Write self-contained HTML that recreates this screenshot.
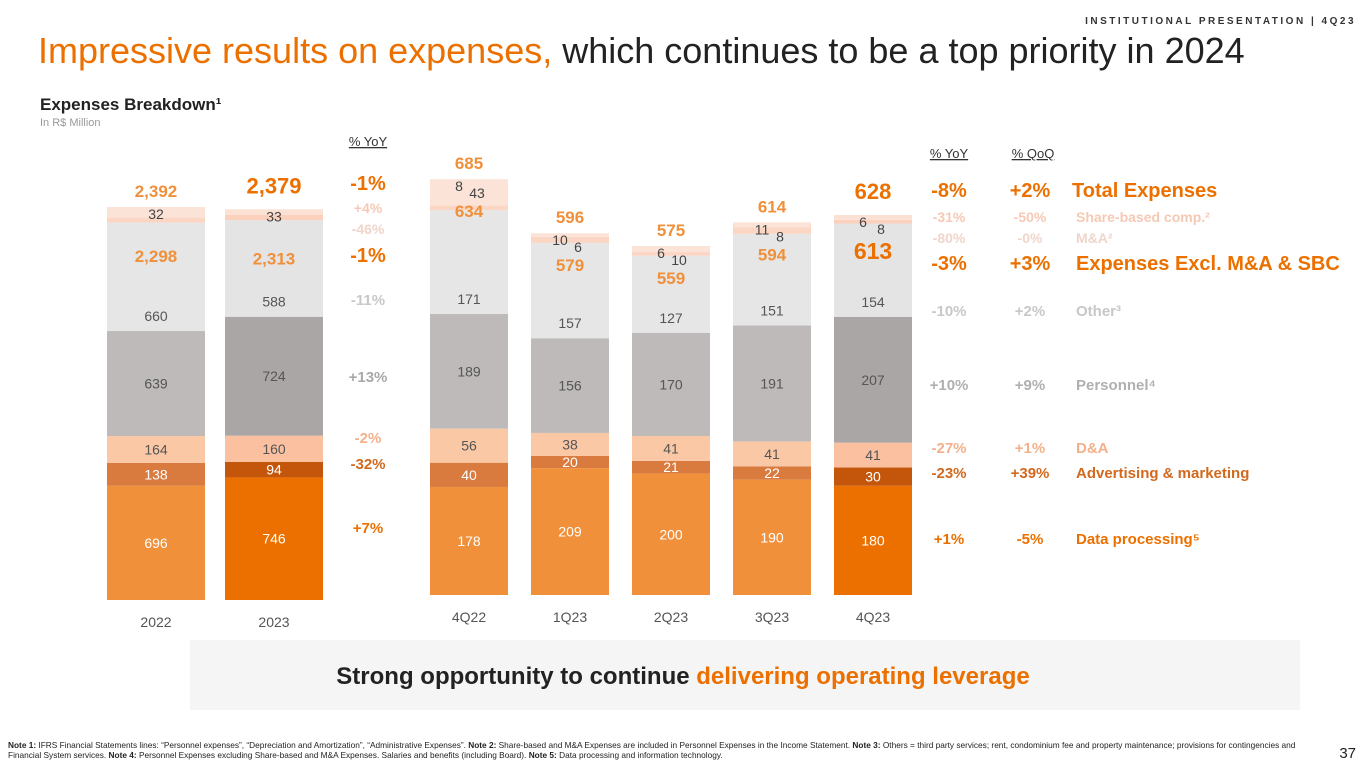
<!DOCTYPE html>
<html><head><meta charset="utf-8"><style>
body{margin:0;width:1365px;height:768px;overflow:hidden;background:#fff;font-family:"Liberation Sans",sans-serif}
svg{position:absolute;left:0;top:0}
.note{position:absolute;left:8px;top:740px;width:1300px;font-size:8.3px;line-height:10px;color:#222}
</style></head><body>
<svg id="s" width="1365" height="768">
<text x="1356" y="24" text-anchor="end" font-size="10" letter-spacing="2.5" fill="#333" font-weight="bold">INSTITUTIONAL PRESENTATION | 4Q23</text>
<text x="38" y="63" font-size="36" fill="#ec7000">Impressive results on expenses,<tspan fill="#222"> which continues to be a top priority in 2024</tspan></text>
<text x="40" y="110" font-size="17" font-weight="bold" fill="#222">Expenses Breakdown¹</text>
<text x="40" y="126" font-size="11" fill="#999">In R$ Million</text>
<rect x="190" y="640" width="1110" height="70" fill="#f5f5f5"/>
<text x="683" y="684" text-anchor="middle" font-size="24" font-weight="bold" fill="#222">Strong opportunity to continue <tspan fill="#ec7000">delivering operating leverage</tspan></text>
<text x="1356" y="758" text-anchor="end" font-size="15" fill="#222">37</text>
</svg>
<div class="note"><b>Note 1:</b> IFRS Financial Statements lines: “Personnel expenses”, “Depreciation and Amortization”, “Administrative Expenses”. <b>Note 2:</b> Share-based and M&amp;A Expenses are included in Personnel Expenses in the Income Statement. <b>Note 3:</b> Others = third party services; rent, condominium fee and property maintenance; provisions for contingencies and Financial System services. <b>Note 4:</b> Personnel Expenses excluding Share-based and M&amp;A Expenses. Salaries and benefits (including Board). <b>Note 5:</b> Data processing and information technology.</div>
<script>
const annualCats=["2022","2023"];
const annualData=[696,746];const annualAdv=[138,94];const annualDA=[164,160];const annualPers=[639,724];const annualOther=[660,588];
const annualSBC=[32,33];const annualMA=[63,33];
const annualExcl=["2,298","2,313"];const annualTotal=["2,392","2,379"];
const qCats=["4Q22","1Q23","2Q23","3Q23","4Q23"];
const qData=[178,209,200,190,180];const qAdv=[40,20,21,22,30];const qDA=[56,38,41,41,41];const qPers=[189,156,170,191,207];const qOther=[171,157,127,151,154];
const qSBC=[8,10,6,11,6];const qMA=[43,6,10,8,8];
const qExcl=["634","579","559","594","613"];const qTotal=["685","596","575","614","628"];
const annualYoY=["-1%","+4%","-46%","-1%","-11%","+13%","-2%","-32%","+7%"];
const qYoY=["-8%","-31%","-80%","-3%","-10%","+10%","-27%","-23%","+1%"];
const qQoQ=["+2%","-50%","-0%","+3%","+2%","+9%","+1%","+39%","-5%"];
const rowLabels=["Total Expenses","Share-based comp.²","M&A²","Expenses Excl. M&A & SBC","Other³","Personnel⁴","D&A","Advertising & marketing","Data processing⁵"];
const S=document.getElementById('s');const NS="http://www.w3.org/2000/svg";
function mk(t,a,txt){const e=document.createElementNS(NS,t);for(const k in a)e.setAttribute(k,a[k]);if(txt!==undefined)e.textContent=txt;S.appendChild(e);return e;}
function chart(cats,series,excl,total,x0,step,w,base,scale,hiIdx,opts){
 const cols=[["#f0903a","#ec7000"],["#d97a3e","#c4560c"],["#fbc8a5","#fbc0a0"],["#bdbab9","#aaa6a5"],["#e6e6e6","#e4e4e4"],["#fbd6c4","#fbd0bd"],["#fbe3d8","#fbe0d4"]];
 const y=v=>base-v*scale;
 cats.forEach((c,i)=>{
  const x=x0+i*step;let acc=0;const hi=i===hiIdx;
  series.forEach((s,k)=>{
   const v=s[i];const r=mk('rect',{x:x,y:y(acc+v),width:w,height:v*scale,fill:cols[k][hi?1:0]});
   
   
   if(k<4){const t=mk('text',{x:x+w/2,y:y(acc+v/2)+5,'text-anchor':'middle','font-size':14,fill:k<2?'#fff':'#555'},String(v));
    }
   if(k===4){const t=mk('text',{x:x+w/2,y:y(acc)-10,'text-anchor':'middle','font-size':14,fill:'#555'},String(v));
    }
   acc+=v;
  });
  const top=y(acc);
  const sb=mk('text',{x:x+w/2-(opts.sm?10:0),y:top+12,'text-anchor':'middle','font-size':14,fill:'#444'},String(series[5][i]));
  
  if(opts.sm){const m=mk('text',{x:x+w/2+8,y:top+19,'text-anchor':'middle','font-size':14,fill:'#444'},String(series[6][i]));
   }
  const big=hi&&opts.sm;
  const ex=mk('text',{x:x+w/2,y:top+opts.exOff+(big?6:0),'text-anchor':'middle','font-size':big?23:17,'font-weight':'bold',fill:big?'#ec7000':'#f0903a'},excl[i]);
  
  const tt=mk('text',{x:x+w/2,y:top-10-(hi?6:0),'text-anchor':'middle','font-size':hi?22:17,'font-weight':'bold',fill:hi?'#ec7000':'#f0903a'},total[i]);
  
  const xl=mk('text',{x:x+w/2,y:base+27,'text-anchor':'middle','font-size':14,fill:'#555'},c);
  
 });
}
chart(annualCats,[annualData,annualAdv,annualDA,annualPers,annualOther,annualSBC,annualMA],annualExcl,annualTotal,107,118,98,600,0.1643,1,{sm:false,exOff:55});
chart(qCats,[qData,qAdv,qDA,qPers,qOther,qSBC,qMA],qExcl,qTotal,430,101,78,595,0.607,4,{sm:true,exOff:38});
const rowY=[197,222,243,270,316,390,453,478,544];
const aY=[190,213,234,262,305,382,443,469,533];
const style=[["#ec7000",20,true],["#f6c9b4",14,false],["#f0d5cc",14,false],["#ec7000",20,true],["#c8c8c8",15,false],["#b0b0b0",15,false],["#f3b08a",15,false],["#d2691e",15,false],["#ec7000",15,false]];
const aStyle=[["#ec7000",20],["#f6c9b4",14],["#f0d5cc",14],["#ec7000",20],["#c8c8c8",15],["#a9a9a9",15],["#f3b08a",15],["#d2691e",15],["#ec7000",15]];
function tx(x,y,s,fs,fill,anchor,bold,name){const t=mk('text',{x:x,y:y,'font-size':fs,fill:fill,'text-anchor':anchor,'font-weight':bold?'bold':'normal'},s);return t;}
tx(368,146,"% YoY",13,"#333","middle",false,"annual-yoy-header").setAttribute('text-decoration','underline');
tx(949,158,"% YoY",13,"#333","middle",false,"quarter-yoy-header").setAttribute('text-decoration','underline');
tx(1033,158,"% QoQ",13,"#333","middle",false,"quarter-qoq-header").setAttribute('text-decoration','underline');
annualYoY.forEach((v,i)=>tx(368,aY[i],v,aStyle[i][1],aStyle[i][0],"middle",true,"annual-yoy-value"));
qYoY.forEach((v,i)=>tx(949,rowY[i],v,style[i][1],style[i][0],"middle",true,"quarter-yoy-value"));
qQoQ.forEach((v,i)=>tx(1030,rowY[i],v,style[i][1],style[i][0],"middle",true,"quarter-qoq-value"));
rowLabels.forEach((v,i)=>tx(i==0?1072:1076,rowY[i],v,style[i][1],style[i][0],"start",true,"legend-entry"));
</script>
</body></html>
